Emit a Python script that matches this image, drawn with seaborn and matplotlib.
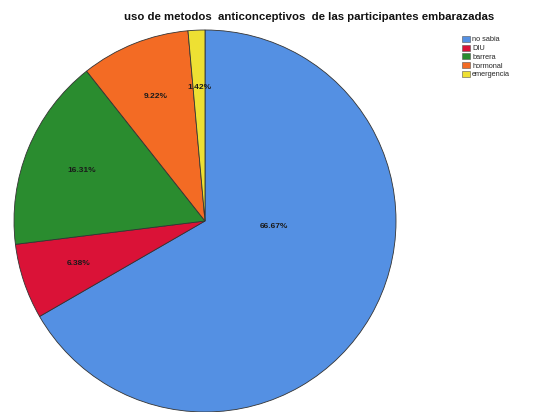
import matplotlib
matplotlib.use("Agg")
import matplotlib.pyplot as plt
import seaborn as sns
import numpy as np

sns.set_theme(style="white")
plt.rcParams['font.family'] = ['Liberation Sans', 'DejaVu Sans']

categories = ["no sabia", "DIU", "barrera", "hormonal", "emergencia"]
percentages = [66.67, 6.38, 16.31, 9.22, 1.42]
colors = ["#5490E3", "#DA1237", "#2A8C2F", "#F36B24", "#EEE033"]

fig = plt.figure(figsize=(5.41, 4.12), dpi=100)
ax = fig.add_axes([14 / 541, 0, 382 / 541, 382 / 412])

wedges, texts, autotexts = ax.pie(
    percentages,
    colors=colors,
    startangle=90,
    counterclock=False,
    autopct=lambda p: f"{p:.2f}%",
    pctdistance=0.70,
    wedgeprops=dict(edgecolor="#333333", linewidth=0.6),
    textprops=dict(fontsize=6, fontweight="bold", color="#1a1a1a"),
)
ax.set_aspect("equal")
ax.set_xlim(-1.0, 1.0)
ax.set_ylim(-1.0, 1.0)

# large slice label sits nearer the centre
autotexts[0].set_position((0.36, -0.03))

fig.text(0.572, 0.958, "uso de metodos  anticonceptivos  de las participantes embarazadas",
         ha="center", va="center", fontsize=8.2, fontweight="bold", color="#111111")

leg = fig.legend(wedges, categories, loc="upper left", bbox_to_anchor=(0.848, 0.922),
                 frameon=False, fontsize=5.3, handlelength=1.0, handleheight=0.9,
                 handletextpad=0.3, labelspacing=0.15, borderpad=0.0)
for h in leg.legend_handles:
    h.set_edgecolor("#555555")
    h.set_linewidth(0.4)

fig.savefig("out.png", dpi=100)
